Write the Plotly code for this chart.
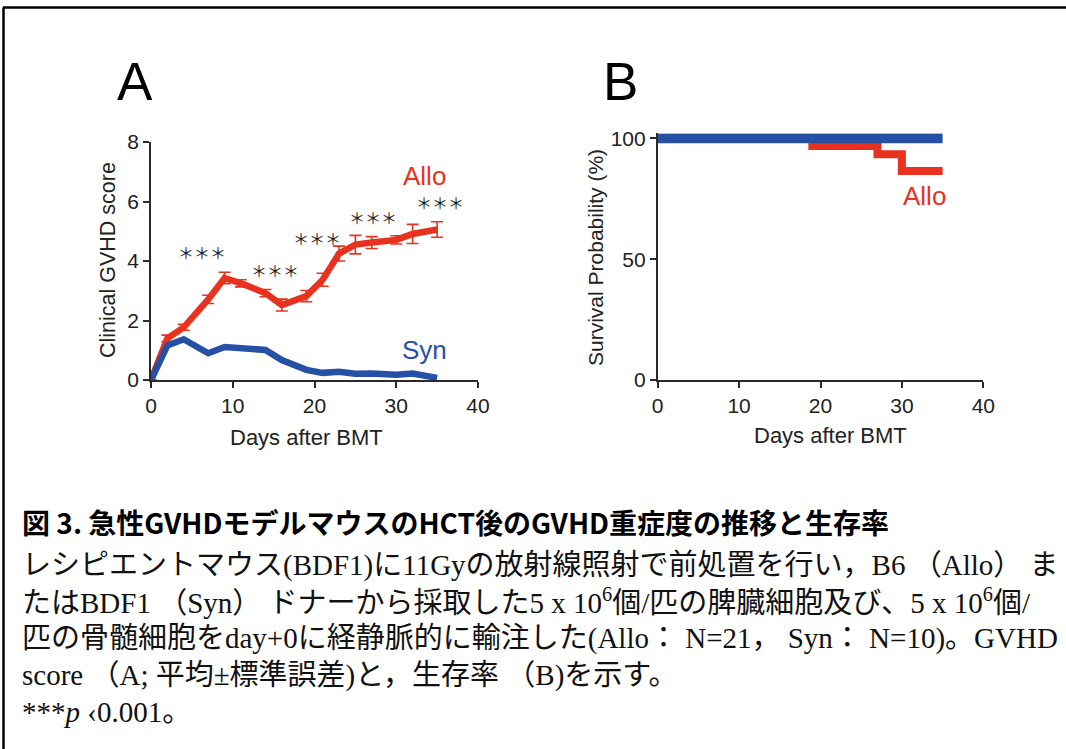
import plotly.graph_objects as go

W, H = 1066, 749

# ---- Panel A data (Clinical GVHD score, mean ± SEM) ----
days = [0, 2, 4, 7, 9, 11, 14, 16, 19, 21, 23, 25, 27, 30, 32, 35]
allo_mean = [0, 1.40, 1.77, 2.71, 3.43, 3.25, 2.92, 2.52, 2.82, 3.37, 4.25, 4.55, 4.62, 4.71, 4.91, 5.06]
allo_sem = [0, 0.11, 0.10, 0.14, 0.19, 0.12, 0.12, 0.20, 0.19, 0.22, 0.25, 0.31, 0.20, 0.14, 0.32, 0.26]
syn_mean = [0, 1.16, 1.37, 0.90, 1.11, 1.05, 1.01, 0.67, 0.34, 0.24, 0.28, 0.21, 0.22, 0.18, 0.22, 0.07]

# significance marks (x, y in data units of panel A)
star_x = [6.2, 15.2, 20.3, 27.2, 35.3]
star_y = [4.31, 3.70, 4.76, 5.49, 6.0]

# ---- Panel B data (Survival, %) ----
surv_allo_days = [0, 19, 27, 30, 35]
surv_allo = [100, 96.8, 93.4, 86.5, 86.5]
surv_syn_days = [0, 35]
surv_syn = [100, 100]

x_ticks = [0, 10, 20, 30, 40]
yA_ticks = [0, 2, 4, 6, 8]
yB_ticks = [0, 50, 100]

caption_lines = [
    "図 3. 急性GVHDモデルマウスのHCT後のGVHD重症度の推移と生存率",
    "レシピエントマウス(BDF1)に11Gyの放射線照射で前処置を行い，B6 （Allo） ま",
    "たはBDF1 （Syn） ドナーから採取した5 x 10<sup>6</sup>個/匹の脾臓細胞及び、5 x 10<sup>6</sup>個/",
    "匹の骨髄細胞をday+0に経静脈的に輸注した(Allo： N=21， Syn： N=10)。GVHD",
    "score （A; 平均±標準誤差)と，生存率 （B)を示す。",
    "***<i>p</i> ‹0.001。",
]

RED = "#e8321f"
BLUE = "#2650a6"
AX = "#2a2a2a"
SANS = "Liberation Sans, Arial, sans-serif"

def px_x(p):
    return p / W

def px_y(p):
    return 1 - p / H

fig = go.Figure()

# Panel A
fig.add_trace(go.Scatter(
    x=days, y=allo_mean, mode="lines", xaxis="x", yaxis="y",
    line=dict(color=RED, width=6.5),
    error_y=dict(type="data", array=allo_sem, visible=True, color=RED, thickness=1.6, width=6),
    showlegend=False, cliponaxis=False))
fig.add_trace(go.Scatter(
    x=days, y=syn_mean, mode="lines", xaxis="x", yaxis="y",
    line=dict(color=BLUE, width=6.5),
    showlegend=False, cliponaxis=False))

# Panel B
fig.add_trace(go.Scatter(
    x=surv_allo_days, y=surv_allo, mode="lines", xaxis="x2", yaxis="y2",
    line=dict(color=RED, width=8, shape="hv"),
    showlegend=False, cliponaxis=False))
fig.add_trace(go.Scatter(
    x=surv_syn_days, y=surv_syn, mode="lines", xaxis="x2", yaxis="y2",
    line=dict(color=BLUE, width=10),
    showlegend=False, cliponaxis=False))

axis_common = dict(
    showline=True, linecolor=AX, linewidth=1.6, ticks="outside", ticklen=6,
    tickwidth=1.6, tickcolor=AX, showgrid=False, zeroline=False, automargin=False,
    tickfont=dict(family=SANS, size=21, color="#222"),
)

# panel B: 0 % at y=380 px, 100 % at y=138.3 px; range topped at 102 so the thick
# 100 % lines are not clipped
b_scale = (380 - 138.3) / 100
b_top = 102

fig.update_layout(
    width=W, height=H, autosize=False,
    margin=dict(l=0, r=0, t=0, b=0, pad=0),
    paper_bgcolor="white", plot_bgcolor="white",
    xaxis=dict(domain=[px_x(151), px_x(478)], range=[0, 40], tickvals=x_ticks,
               anchor="y", **axis_common),
    yaxis=dict(domain=[px_y(380), px_y(142)], range=[0, 8], tickvals=yA_ticks,
               anchor="x", **axis_common),
    xaxis2=dict(domain=[px_x(657.7), px_x(983.3)], range=[0, 40], tickvals=x_ticks,
                anchor="y2", **axis_common),
    yaxis2=dict(domain=[px_y(380), px_y(380 - b_top * b_scale)], range=[0, b_top],
                tickvals=yB_ticks, anchor="x2", **axis_common),
)

ann = []

def add_text(text, x, y, size, color="#222", xref="paper", yref="paper", angle=0,
             family=SANS, xanchor="center", weight="normal"):
    ann.append(dict(text=text, x=x, y=y, xref=xref, yref=yref, showarrow=False,
                    textangle=angle, xanchor=xanchor, yanchor="middle",
                    font=dict(family=family, size=size, color=color, weight=weight)))

# panel letters
add_text("A", px_x(135), px_y(82), 53, "black")
add_text("B", px_x(620), px_y(82), 53, "black")
# axis titles
add_text("Clinical GVHD score", px_x(108), px_y(260), 21.5, angle=-90)
add_text("Days after BMT", px_x(306), px_y(437), 22)
add_text("Survival Probability (%)", px_x(595), px_y(258), 21, angle=-90)
add_text("Days after BMT", px_x(830), px_y(435), 22)
# series labels
add_text("Allo", 33.4, 6.85, 26, RED, "x", "y")
add_text("Syn", 33.4, 1.0, 26, BLUE, "x", "y")
add_text("Syn", 32.6, 110.5, 26, BLUE, "x2", "y2")
add_text("Allo", 32.8, 76, 26, RED, "x2", "y2")
# stars
for sx, sy in zip(star_x, star_y):
    add_text("＊＊＊", sx, sy, 16, "#222", "x", "y", family="Noto Sans CJK JP")

# caption
cap_y = [522, 565, 601, 638, 675, 712]
for i, (line, cy) in enumerate(zip(caption_lines, cap_y)):
    if i == 0:
        add_text(line, px_x(20), px_y(cy), 28, "black", family="Noto Sans CJK JP",
                 xanchor="left", weight="bold")
    else:
        add_text(line, px_x(20), px_y(cy), 29, "#111",
                 family="Liberation Serif, Noto Sans CJK JP", xanchor="left")

fig.update_layout(annotations=ann)

# frame lines (top and left)
fig.add_shape(type="line", xref="paper", yref="paper",
              x0=px_x(3), x1=1, y0=px_y(7.5), y1=px_y(7.5), line=dict(color="black", width=2.5))
fig.add_shape(type="line", xref="paper", yref="paper",
              x0=px_x(3.5), x1=px_x(3.5), y0=px_y(7.5), y1=0, line=dict(color="black", width=2.5))

fig.write_html("out.html", config={"displayModeBar": False},
               post_script="document.body.style.margin='0';document.body.style.overflow='hidden';")
